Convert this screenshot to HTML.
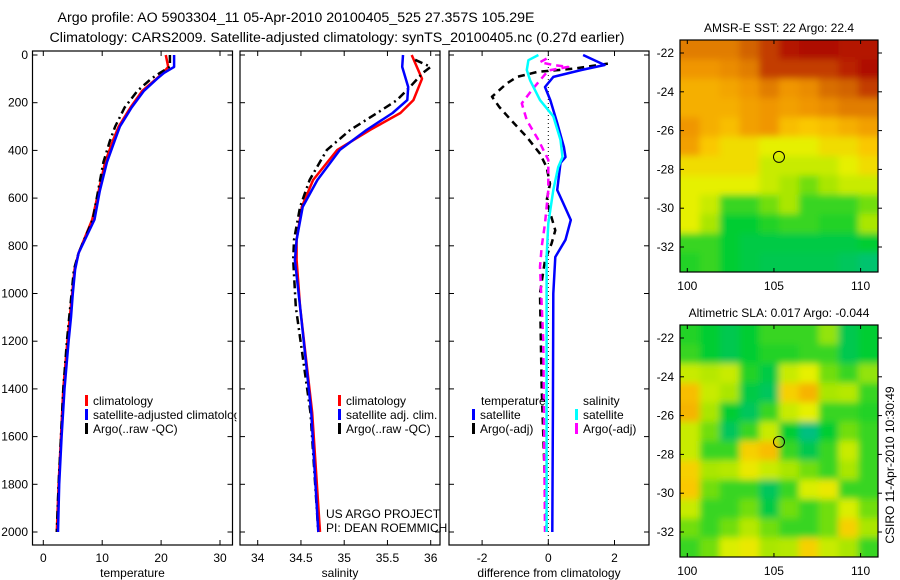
<!DOCTYPE html>
<html><head><meta charset="utf-8">
<style>
html,body{margin:0;padding:0;background:#fff;}
svg{display:block;font-family:"Liberation Sans",sans-serif;}
</style></head>
<body>
<svg id="fig" width="900" height="580" viewBox="0 0 900 580" xmlns="http://www.w3.org/2000/svg">
<defs>
<clipPath id="c1"><rect x="32.5" y="51" width="200" height="494"/></clipPath>
<clipPath id="c2"><rect x="240" y="51" width="200" height="494"/></clipPath>
<clipPath id="c3"><rect x="449" y="51" width="200" height="494"/></clipPath>
<clipPath id="cm1"><rect x="680" y="40" width="198" height="232"/></clipPath>
<clipPath id="cm2"><rect x="680" y="325" width="198" height="232"/></clipPath>
<filter id="bl" filterUnits="userSpaceOnUse" x="600" y="0" width="300" height="580"><feGaussianBlur stdDeviation="3.5"/></filter>
</defs>
<text x="296" y="22" font-size="14.2" text-anchor="middle">Argo profile: AO 5903304_11 05-Apr-2010 20100405_525 27.357S 105.29E</text>
<text x="337" y="42" font-size="14.2" text-anchor="middle">Climatology: CARS2009. Satellite-adjusted climatology: synTS_20100405.nc (0.27d earlier)</text>
<g id="g1"></g>
<g id="g2"></g>
<g id="g3"></g>
<g id="m1"></g>
<g id="m2"></g>
<text x="894" y="465" font-size="12" text-anchor="middle" transform="rotate(-90 894 465)">CSIRO 11-Apr-2010 10:30:49</text>
</svg>
<script>
// ---- data ----
const tempDepths = [0,50,75,100,150,220,300,360,450,570,690,830,900,1000,1100,1200,1400,1600,1800,2000];
const tempSat = [22.2,22.2,20.5,19.3,17.1,15,13,12.1,10.8,9.6,8.7,6,5.4,5,4.7,4.3,3.6,3.1,2.7,2.5];
const tempClim = [20.8,21.2,20.3,19.2,16.8,14.8,12.8,11.8,10.5,9.4,8.3,6,5.3,4.9,4.5,4.1,3.4,3,2.6,2.3];
const tempArgo = [21.5,21.5,19.8,18.3,16,13.8,12.2,11.3,10.2,9.3,8.4,6,5.2,4.8,4.4,4,3.4,3,2.6,2.3];
const salSatDepths = [0,50,134,189,243,314,398,524,637,775,860,1056,1500,2000];
const salSat = [35.68,35.67,35.74,35.73,35.56,35.26,34.95,34.69,34.52,34.45,34.43,34.49,34.62,34.70];
const salClimDepths = [0,100,189,243,314,398,524,637,775,860,1056,1500,2000];
const salClim = [35.78,35.90,35.80,35.65,35.30,34.92,34.64,34.51,34.45,34.45,34.49,34.63,34.72];
const salArgoDepths = [20,50,75,134,189,243,314,398,524,637,775,860,1056,1500,2000];
const salArgo = [35.82,36.0,35.91,35.76,35.61,35.38,35.07,34.80,34.60,34.49,34.42,34.41,34.44,34.61,34.70];
const dTsatDepths = [0,29,42,63,92,134,189,285,386,428,453,566,621,692,775,847,1000,1500,2000];
const dTsat = [1.05,1.5,1.7,1.0,0.15,-0.1,0.06,0.27,0.47,0.52,0.37,0.27,0.45,0.68,0.52,0.21,0.15,0.14,0.12];
const dSsatDepths = [0,22,63,106,189,257,356,428,470,566,706,847,1200,2000];
const dSsat = [-0.3,-0.6,-0.65,-0.55,-0.25,0.15,0.37,0.43,0.3,0.15,0,-0.05,-0.05,-0.05];
const dTargoDepths = [36,57,71,92,120,175,218,274,344,414,470,540,610,735,790,860,1000,1400,2000];
const dTargo = [1.8,0.77,-0.33,-0.95,-1.26,-1.7,-1.48,-1.12,-0.65,-0.25,-0.05,0.05,-0.05,0.21,0.1,-0.1,-0.25,-0.2,-0.05];
const dSargoDepths = [15,30,42,50,65,106,147,203,274,356,440,566,706,804,888,1200,2000];
const dSargo = [-0.05,-0.25,0.15,0.6,0,-0.25,-0.5,-0.8,-0.65,-0.3,0,0,-0.1,-0.2,-0.25,-0.15,-0.1];
const depthTicks = [0,200,400,600,800,1000,1200,1400,1600,1800,2000];
const tempTicks = [0,10,20,30];
const salTicks = [34,34.5,35,35.5,36];
const salTickLabels = ["34","34.5","35","35.5","36"];
const diffTicks = [-2,0,2];
const sstGrid = [
[0.75,0.75,0.75,0.8,0.85,0.9,0.92,0.92,0.9,0.9],
[0.7,0.7,0.72,0.75,0.85,0.85,0.85,0.85,0.88,0.92],
[0.65,0.65,0.67,0.7,0.75,0.7,0.72,0.78,0.8,0.85],
[0.65,0.65,0.65,0.68,0.7,0.68,0.7,0.72,0.75,0.75],
[0.7,0.65,0.62,0.68,0.7,0.62,0.6,0.62,0.65,0.68],
[0.68,0.6,0.55,0.55,0.5,0.5,0.5,0.55,0.55,0.6],
[0.55,0.55,0.55,0.55,0.45,0.45,0.45,0.45,0.5,0.55],
[0.5,0.5,0.5,0.5,0.45,0.4,0.35,0.4,0.45,0.45],
[0.5,0.45,0.3,0.3,0.35,0.4,0.3,0.3,0.3,0.35],
[0.5,0.4,0.25,0.25,0.28,0.3,0.3,0.28,0.28,0.4],
[0.3,0.3,0.25,0.22,0.22,0.22,0.22,0.22,0.22,0.25],
[0.28,0.3,0.25,0.22,0.2,0.2,0.2,0.2,0.18,0.15]];
const slaGrid = [
[0.28,0.25,0.2,0.25,0.3,0.3,0.3,0.38,0.2,0.25],
[0.3,0.25,0.2,0.25,0.28,0.28,0.3,0.3,0.2,0.25],
[0.45,0.42,0.45,0.28,0.22,0.45,0.5,0.35,0.3,0.38],
[0.62,0.45,0.4,0.22,0.18,0.58,0.64,0.4,0.42,0.3],
[0.64,0.4,0.25,0.18,0.3,0.45,0.5,0.3,0.3,0.28],
[0.45,0.35,0.18,0.3,0.45,0.25,0.12,0.25,0.35,0.3],
[0.45,0.3,0.3,0.58,0.62,0.3,0.2,0.3,0.45,0.3],
[0.58,0.4,0.42,0.52,0.45,0.4,0.35,0.3,0.4,0.3],
[0.6,0.35,0.3,0.3,0.18,0.3,0.48,0.52,0.3,0.3],
[0.45,0.3,0.3,0.35,0.22,0.35,0.3,0.35,0.48,0.35],
[0.35,0.3,0.35,0.42,0.35,0.3,0.3,0.35,0.58,0.4],
[0.3,0.35,0.48,0.52,0.4,0.42,0.58,0.45,0.4,0.3]];
const lonTicks = [100,105,110];
const latTicks = [-22,-24,-26,-28,-30,-32];
const argoLon = 105.29, argoLat = -27.357;

// ---- helpers ----
const NS = "http://www.w3.org/2000/svg";
function mk(parent, tag, attrs, text){
  const e = document.createElementNS(NS, tag);
  for (const k in attrs) e.setAttribute(k, attrs[k]);
  if (text !== undefined) e.textContent = text;
  parent.appendChild(e);
  return e;
}
const yD = d => 55 + d * 0.2385;
const xT = v => 43.3 + v * 5.89;
const xS = v => 257.7 + (v - 34) * 86.5;
const xDf = v => 548.3 + v * 33.1;

function panel(g, x0, clipId, xf, ticks, labels, xlabel, showY, bg){
  if (bg) mk(g, 'rect', {x:x0, y:51, width:200, height:494, fill:'#fff'});
  const box = mk(g, 'rect', {x:x0, y:51, width:200, height:494, fill:'none', stroke:'#000', 'stroke-width':1.2});
  
  
  ticks.forEach((t, i) => {
    const x = xf(t);
    mk(g, 'line', {x1:x, x2:x, y1:51, y2:56, stroke:'#000'});
    mk(g, 'line', {x1:x, x2:x, y1:545, y2:540, stroke:'#000'});
    const tl = mk(g, 'text', {x:x, y:562, 'font-size':12, 'text-anchor':'middle'}, labels[i]);
    
    
  });
  depthTicks.forEach(d => {
    const y = yD(d);
    mk(g, 'line', {x1:x0, x2:x0+5, y1:y, y2:y, stroke:'#000'});
    mk(g, 'line', {x1:x0+200, x2:x0+195, y1:y, y2:y, stroke:'#000'});
    if (showY){
      const yl = mk(g, 'text', {x:28, y:y+4, 'font-size':12, 'text-anchor':'end'}, String(d));
      
      
    }
  });
  const xl = mk(g, 'text', {x:x0+100, y:577, 'font-size':12, 'text-anchor':'middle'}, xlabel);
  
  
}
function series(g, clipId, depths, vals, xf, color, dash, name, w){
  const pts = depths.map((d, i) => xf(vals[i]).toFixed(1) + ',' + yD(d).toFixed(1)).join(' ');
  const p = mk(g, 'polyline', {points:pts, fill:'none', stroke:color, 'stroke-width':w||2.5, 'stroke-dasharray':dash||'none', 'clip-path':'url(#'+clipId+')', 'stroke-linejoin':'round'});
  
  
}
function legendEntry(g, x, y, color, label, name){
  mk(g, 'rect', {x:x, y:y-10, width:3, height:11, fill:color});
  const t = mk(g, 'text', {x:x+8, y:y, 'font-size':12}, label);
  
  
}

// ---- panel 1 ----
const g1 = document.getElementById('g1');
panel(g1, 32.5, 'c1', xT, tempTicks, tempTicks.map(String), 'temperature', true, false);
series(g1, 'c1', tempDepths, tempClim, xT, '#f00', null, 'temp-climatology-line');
series(g1, 'c1', tempDepths, tempArgo, xT, '#000', '8,4,2,4', 'temp-argo-line');
series(g1, 'c1', tempDepths, tempSat, xT, '#00f', null, 'temp-satellite-line');
legendEntry(g1, 85, 405, '#f00', 'climatology', 'legend-climatology');
legendEntry(g1, 85, 419, '#00f', 'satellite-adjusted climatology', 'legend-satellite-adjusted');
legendEntry(g1, 85, 433, '#000', 'Argo(..raw -QC)', 'legend-argo');

// ---- panel 2 ----
const g2 = document.getElementById('g2');
mk(g2, 'rect', {x:236.5, y:380, width:4, height:60, fill:'#fff'});
panel(g2, 240, 'c2', xS, salTicks, salTickLabels, 'salinity', false, true);
series(g2, 'c2', salClimDepths, salClim, xS, '#f00', null, 'sal-climatology-line');
series(g2, 'c2', salArgoDepths, salArgo, xS, '#000', '8,4,2,4', 'sal-argo-line');
series(g2, 'c2', salSatDepths, salSat, xS, '#00f', null, 'sal-satellite-line');
legendEntry(g2, 338, 405, '#f00', 'climatology', 'legend-sal-climatology');
legendEntry(g2, 338, 419, '#00f', 'satellite adj. clim.', 'legend-sal-satellite');
legendEntry(g2, 338, 433, '#000', 'Argo(..raw -QC)', 'legend-sal-argo');

// ---- panel 3 ----
const g3 = document.getElementById('g3');
panel(g3, 449, 'c3', xDf, diffTicks, diffTicks.map(String), 'difference from climatology', false, false);
mk(g3, 'line', {x1:xDf(0), x2:xDf(0), y1:51, y2:545, stroke:'#000', 'stroke-dasharray':'1,3'});
series(g3, 'c3', dTargoDepths, dTargo, xDf, '#000', '7,5', 'diff-temp-argo-line');
series(g3, 'c3', dSargoDepths, dSargo, xDf, '#f0f', '7,5', 'diff-sal-argo-line');
series(g3, 'c3', dTsatDepths, dTsat, xDf, '#00f', null, 'diff-temp-satellite-line');
series(g3, 'c3', dSsatDepths, dSsat, xDf, '#0ff', null, 'diff-sal-satellite-line');
const lt = mk(g3, 'text', {x:481, y:405, 'font-size':12}, 'temperature');


const ls = mk(g3, 'text', {x:583, y:405, 'font-size':12}, 'salinity');


legendEntry(g3, 472, 419, '#00f', 'satellite', 'legend-temp-satellite');
legendEntry(g3, 472, 433, '#000', 'Argo(-adj)', 'legend-temp-argo');
legendEntry(g3, 575, 419, '#0ff', 'satellite', 'legend-sal-satellite-diff');
legendEntry(g3, 575, 433, '#f0f', 'Argo(-adj)', 'legend-sal-argo-diff');
const pr1 = mk(g3, 'text', {x:326, y:518, 'font-size':12}, 'US ARGO PROJECT');


const pr2 = mk(g3, 'text', {x:326, y:532, 'font-size':12}, 'PI: DEAN ROEMMICH');



// ---- maps ----
const stops = [[0.1,[0,190,140]],[0.25,[0,205,50]],[0.4,[170,230,0]],[0.5,[230,240,0]],[0.6,[250,200,0]],[0.7,[240,150,0]],[0.8,[210,100,0]],[0.9,[180,20,0]],[1.0,[150,0,0]]];
function cmap(v){
  if (v <= stops[0][0]) return 'rgb(' + stops[0][1].join(',') + ')';
  for (let i = 1; i < stops.length; i++){
    if (v <= stops[i][0]){
      const a = stops[i-1], b = stops[i], t = (v - a[0]) / (b[0] - a[0]);
      return 'rgb(' + a[1].map((c, k) => Math.round(c + (b[1][k] - c) * t)).join(',') + ')';
    }
  }
  return 'rgb(150,0,0)';
}
const xLon = lon => 687.3 + (lon - 100) * 17.33;
function drawMap(id, grid, top, clipId, title, name){
  const g = document.getElementById(id);
  const cw = 198 / 10, ch = 232 / 12;
  const inner = mk(g, 'g', {'clip-path':'url(#'+clipId+')'});
  const cells = mk(inner, 'g', {filter:'url(#bl)'});
  grid.forEach((row, r) => row.forEach((v, c) => {
    const x = 680 + c * cw - (c === 0 ? 12 : 0);
    const y = top + r * ch - (r === 0 ? 12 : 0);
    const w = cw + 0.6 + (c === 0 ? 12 : 0) + (c === 9 ? 12 : 0);
    const h = ch + 0.6 + (r === 0 ? 12 : 0) + (r === 11 ? 12 : 0);
    const cell = mk(cells, 'rect', {x:x, y:y, width:w, height:h, fill:cmap(v)});
    
    
  }));
  const yLat = lat => top + 13 + (-22 - lat) * 19.4;
  const fr = mk(g, 'rect', {x:680, y:top, width:198, height:232, fill:'none', stroke:'#000', 'stroke-width':1.2});
  
  
  lonTicks.forEach(l => {
    const x = xLon(l);
    mk(g, 'line', {x1:x, x2:x, y1:top, y2:top+4, stroke:'#000'});
    mk(g, 'line', {x1:x, x2:x, y1:top+232, y2:top+228, stroke:'#000'});
    const t = mk(g, 'text', {x:x, y:top+250, 'font-size':12, 'text-anchor':'middle'}, String(l));
    
    
  });
  latTicks.forEach(l => {
    const y = yLat(l);
    mk(g, 'line', {x1:680, x2:684, y1:y, y2:y, stroke:'#000'});
    mk(g, 'line', {x1:878, x2:882, y1:y, y2:y, stroke:'#000'});
    const t = mk(g, 'text', {x:674, y:y+4, 'font-size':12, 'text-anchor':'end'}, String(l));
    
    
  });
  const circ = mk(g, 'circle', {cx:xLon(argoLon), cy:yLat(argoLat), r:5.5, fill:'none', stroke:'#000', 'stroke-width':1});
  
  
  const tt = mk(g, 'text', {x:779, y:top-8, 'font-size':12, 'text-anchor':'middle'}, title);
  
  
}
drawMap('m1', sstGrid, 40, 'cm1', 'AMSR-E SST: 22 Argo: 22.4', 'sst-map-title');
drawMap('m2', slaGrid, 325, 'cm2', 'Altimetric SLA: 0.017 Argo: -0.044', 'sla-map-title');
</script>
</body></html>
